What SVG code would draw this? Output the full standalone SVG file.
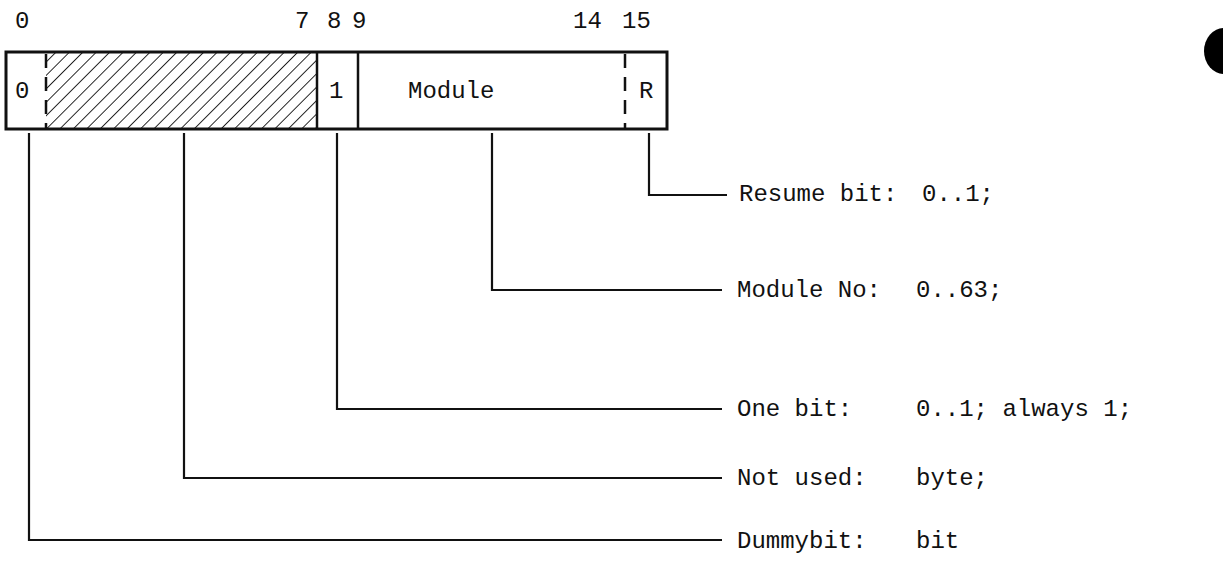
<svg xmlns="http://www.w3.org/2000/svg" width="1223" height="574" viewBox="0 0 1223 574">
<style>
text{font-family:"Liberation Mono","DejaVu Sans Mono",monospace;font-size:24px;fill:#111}
.box{fill:none;stroke:#111;stroke-width:3}
.div{stroke:#111;stroke-width:2.5}
.dash{stroke:#111;stroke-width:2.5;stroke-dasharray:14 9}
.con{fill:none;stroke:#111;stroke-width:2.2}
</style>
<defs>
<pattern id="hatch" patternUnits="userSpaceOnUse" width="9.5" height="9.5" patternTransform="rotate(45)">
<line x1="0" y1="0" x2="0" y2="9.5" stroke="#111" stroke-width="1.8"/>
</pattern>
</defs>
<g id="header">
<text x="15" y="28">0</text>
<text x="295" y="28">7</text>
<text x="327" y="28">8</text>
<text x="352" y="28">9</text>
<text x="573" y="28">14</text>
<text x="622" y="28">15</text>
</g>
<g id="register">
<rect x="46" y="52" width="271" height="77" fill="url(#hatch)"/>
<rect class="box" x="6" y="52" width="661" height="77"/>
<line class="dash" x1="46" y1="54" x2="46" y2="128"/>
<line class="div" x1="317" y1="52" x2="317" y2="129"/>
<line class="div" x1="358" y1="52" x2="358" y2="129"/>
<line class="dash" x1="625" y1="54" x2="625" y2="128"/>
<text x="15" y="98">0</text>
<text x="329" y="98">1</text>
<text x="408" y="98">Module</text>
<text x="639" y="98">R</text>
</g>
<g id="connectors">
<polyline class="con" points="649,133 649,195 727,195"/>
<polyline class="con" points="492,133 492,290 722,290"/>
<polyline class="con" points="337,133 337,409 722,409"/>
<polyline class="con" points="184,133 184,478 722,478"/>
<polyline class="con" points="29,133 29,540 722,540"/>
</g>
<g id="resume"><text x="739" y="201">Resume bit:</text><text x="922" y="201">0..1;</text></g>
<g id="module"><text x="737" y="297">Module No:</text><text x="916" y="297">0..63;</text></g>
<g id="onebit"><text x="737" y="416">One bit:</text><text x="916" y="416">0..1; always 1;</text></g>
<g id="notused"><text x="737" y="485">Not used:</text><text x="916" y="485">byte;</text></g>
<g id="dummy"><text x="737" y="548">Dummybit:</text><text x="916" y="548">bit</text></g>
<ellipse cx="1224" cy="51" rx="20" ry="23" fill="#000"/>
</svg>
